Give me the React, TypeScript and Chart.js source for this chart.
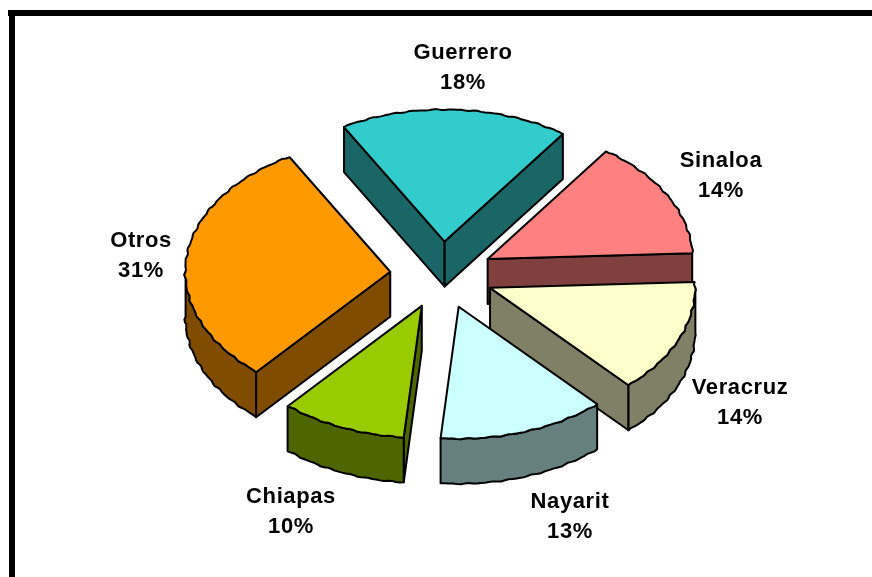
import React, { useEffect, useRef } from "react";
import { Chart, PieController, ArcElement } from "chart.js";

const categories = ["Guerrero", "Sinaloa", "Veracruz", "Nayarit", "Chiapas", "Otros"];
const shares = [18.0, 14.5, 13.9, 13.2, 9.9, 30.5];
const percentLabels = ["18%", "14%", "14%", "13%", "10%", "31%"];
const topColors = ["#33CCCC", "#FF8080", "#FFFFCC", "#CCFFFF", "#99CC00", "#FF9900"];
const wallColors = ["#1A6666", "#804040", "#808066", "#668080", "#4D6600", "#804D00"];
const labelCentres = [
  [463, 67],
  [721, 175],
  [740, 402],
  [570, 516],
  [291, 511],
  [141, 255],
];

const TILT = 0.644;
const DEPTH = 45;
const CENTER_Y = 275;
const EXPLODE = 52;
const RADIUS = 205;
const LINE = 2;

type P = [number, number];

function project(arc: any, ang: number, r: number, drop = 0): P {
  const { x, startAngle, endAngle } = arc.getProps(["x", "startAngle", "endAngle"]);
  const mid = (startAngle + endAngle) / 2;
  const off = arc.options.offset || 0;
  const px = off * Math.cos(mid) + r * Math.cos(ang);
  const py = off * Math.sin(mid) + r * Math.sin(ang);
  return [x + px, CENTER_Y + py * TILT + drop];
}

// The rim of the reference is a slightly rippled faceted line
function rimRadius(arc: any, ang: number) {
  const r = arc.getProps(["outerRadius"]).outerRadius;
  return r + 0.6 * Math.sin(ang * 61) + 0.4 * Math.sin(ang * 97 + 1);
}

function rim(arc: any, a0: number, a1: number, drop = 0): P[] {
  const pts: P[] = [];
  const n = Math.max(2, Math.ceil(Math.abs(a1 - a0) / 0.02));
  for (let i = 0; i <= n; i++) {
    const a = a0 + ((a1 - a0) * i) / n;
    pts.push(project(arc, a, rimRadius(arc, a), drop));
  }
  return pts;
}

function poly(ctx: CanvasRenderingContext2D, pts: P[], fill: string) {
  ctx.beginPath();
  pts.forEach((p, i) => (i ? ctx.lineTo(p[0], p[1]) : ctx.moveTo(p[0], p[1])));
  ctx.closePath();
  ctx.fillStyle = fill;
  ctx.fill();
  ctx.strokeStyle = "#000";
  ctx.lineWidth = LINE;
  ctx.lineJoin = "round";
  ctx.stroke();
}

class TiltedArc extends ArcElement {
  static id = "tiltedArc";
  static defaults = { ...(ArcElement as any).defaults };
  draw(ctx: CanvasRenderingContext2D) {
    const { startAngle, endAngle } = (this as any).getProps(["startAngle", "endAngle"]);
    const apex = project(this, 0, 0);
    poly(ctx, [apex, ...rim(this, startAngle, endAngle)], (this as any).options.backgroundColor);
  }
}

function drawWalls(ctx: CanvasRenderingContext2D, arc: any, color: string) {
  const { startAngle: s, endAngle: e } = arc.getProps(["startAngle", "endAngle"]);
  const apex = project(arc, 0, 0);
  const apexLow = project(arc, 0, 0, DEPTH);
  const radial = (a: number) => {
    const r = rimRadius(arc, a);
    poly(ctx, [apex, project(arc, a, r), project(arc, a, r, DEPTH), apexLow], color);
  };
  if (-Math.cos(s) > 0) radial(s);
  if (Math.cos(e) > 0) radial(e);
  // outer band: only the part of the rim facing the viewer (sin > 0)
  const twoPi = Math.PI * 2;
  for (let k = -1; k <= 1; k++) {
    const from = Math.max(s, k * twoPi);
    const to = Math.min(e, k * twoPi + Math.PI);
    if (to > from) {
      poly(ctx, [...rim(arc, from, to), ...rim(arc, to, from, DEPTH)], color);
    }
  }
}

const walls3d = {
  id: "walls3d",
  beforeDatasetsDraw(chart: any) {
    const arcs = chart.getDatasetMeta(0).data;
    const order = arcs
      .map((a: any, i: number) => i)
      .sort((a: number, b: number) => {
        const m = (x: any) => Math.sin((x.startAngle + x.endAngle) / 2);
        return m(arcs[a]) - m(arcs[b]);
      });
    order.forEach((i: number) => drawWalls(chart.ctx, arcs[i], wallColors[i]));
  },
  afterDatasetsDraw(chart: any) {
    const ctx = chart.ctx;
    ctx.save();
    ctx.font = 'bold 22px "Liberation Sans", Arial, sans-serif';
    (ctx as any).letterSpacing = "0.6px";
    ctx.fillStyle = "#000";
    ctx.textAlign = "center";
    ctx.textBaseline = "middle";
    categories.forEach((name, i) => {
      const [cx, cy] = labelCentres[i];
      ctx.fillText(name, cx, cy - 14);
      ctx.fillText(percentLabels[i], cx, cy + 16);
    });
    ctx.restore();
  },
};

class TiltedPie extends PieController {
  static id = "tiltedPie";
  static defaults = { ...(PieController as any).defaults, dataElementType: "tiltedArc" };
  static overrides = (PieController as any).overrides;
}

Chart.register(TiltedPie as any, TiltedArc as any);

export default function App() {
  const ref = useRef<HTMLCanvasElement>(null);
  useEffect(() => {
    const chart = new Chart(ref.current!, {
      type: "tiltedPie" as any,
      data: {
        labels: categories,
        datasets: [
          {
            data: shares,
            backgroundColor: topColors,
            offset: EXPLODE,
            radius: RADIUS,
            borderWidth: 0,
          } as any,
        ],
      },
      options: {
        responsive: false,
        animation: false,
        events: [],
        rotation: -29.5,
        layout: { padding: { left: 12, right: 0, top: 0, bottom: 0 } },
        plugins: { legend: { display: false }, tooltip: { enabled: false } } as any,
      } as any,
      plugins: [walls3d],
    });
    return () => chart.destroy();
  }, []);
  return (
    <div style={{ position: "fixed", inset: 0, background: "#fff", overflow: "hidden" }}>
      <canvas ref={ref} width={872} height={577} style={{ position: "absolute", left: 0, top: 0 }} />
      <div style={{ position: "absolute", left: 8, top: 10, right: 0, height: 6, background: "#000" }} />
      <div style={{ position: "absolute", left: 9, top: 10, bottom: 0, width: 6, background: "#000" }} />
    </div>
  );
}
